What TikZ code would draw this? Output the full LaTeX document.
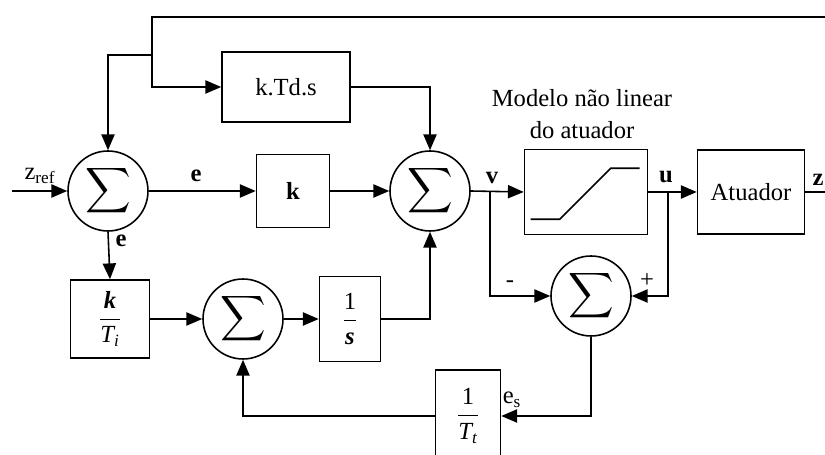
\documentclass[tikz,border=0pt]{standalone}
\usepackage{fontspec}
\usepackage{amsmath}
\usepackage{graphicx}
\setmainfont{Liberation Serif}
\usetikzlibrary{arrows.meta}
\tikzset{
  blk/.style={draw,line width=0.9pt,inner sep=0pt},
  sumnode/.style={draw,circle,line width=0.9pt,minimum size=1.6cm,inner sep=0pt},
  arr/.style={line width=0.9pt,-{Triangle[length=9pt,width=7.5pt]}},
  wire/.style={line width=0.9pt},
}
\newcommand{\sumsign}{\scalebox{1.25}{$\displaystyle\sum$}}
\begin{document}
\begin{tikzpicture}[x=0.02cm,y=-0.02cm,every node/.style={font=\fontsize{14}{16}\selectfont}]
\useasboundingbox (0,0) rectangle (825,455);
% summing junctions
\node[sumnode] (sum1) at (108,191) {\sumsign};
\node[sumnode] (sum2) at (430,191) {\sumsign};
\node[sumnode] (sum3) at (591,296) {\sumsign};
\node[sumnode] (sum4) at (243,319) {\sumsign};
% blocks
\node[blk,minimum width=2.56cm,minimum height=1.4cm] (kTd) at (286,87) {k.Td.s};
\node[blk,minimum width=1.46cm,minimum height=1.46cm] (k) at (293,191) {\textbf{k}};
\node[blk,minimum width=1.58cm,minimum height=1.56cm] (kTi) at (110,319) {$\displaystyle\frac{\textbf{\textit{k}}}{\textit{T}_{\textit{i}}}$};
\node[blk,minimum width=1.22cm,minimum height=1.7cm] (invs) at (350,319) {$\displaystyle\frac{\text{1}}{\textbf{\textit{s}}}$};
\node[blk,minimum width=1.3cm,minimum height=1.84cm] (invTt) at (468,416) {$\displaystyle\frac{\text{1}}{\textit{T}_{\textit{t}}}$};
\node[blk,minimum width=2.46cm,minimum height=1.7cm] (sat) at (586,192) {};
\node[blk,minimum width=2.14cm,minimum height=1.68cm] (act) at (751,192) {Atuador};
\node[align=center,font=\fontsize{14}{18}\selectfont] (satlbl) at (582,114) {Modelo não linear\\do atuador};
\draw[wire] ([shift={(7,-16)}]sat.south west) -- ++(29,0) -- ++(51,-51) -- ++(29,0);
% signals
\coordinate (zin) at (12,191);
\coordinate (topR) at (825,17);
\coordinate (topL) at (152,17);
\coordinate (br1) at (152,55);
\coordinate (vb) at (490,191);
\coordinate (ub) at (668,192);
\coordinate (zout) at (825,192);
\draw[arr] (zin) -- (sum1.west);
\draw[arr] (topR) -- (topL) |- (kTd.west);
\draw[arr] (br1) -| (sum1.north);
\draw[arr] (sum1.east) -- (k.west);
\draw[arr] (k.east) -- (sum2.west);
\draw[arr] (kTd.east) -| (sum2.north);
\draw[arr] (sum1.south) -- (kTi.north);
\draw[arr] (kTi.east) -- (sum4.west);
\draw[arr] (sum4.east) -- (invs.west);
\draw[arr] (invs.east) -| (sum2.south);
\draw[arr] (sum2.east) -- (sat.west);
\draw[arr] (vb) |- (sum3.west);
\draw[arr] (sat.east) -- (act.west);
\draw[arr] (ub) |- (sum3.east);
\draw[arr] (sum3.south) |- (invTt.east);
\draw[arr] (invTt.west) -| (sum4.south);
\draw[wire] (act.east) -- (zout);
% labels
\node (lzref) at (40,176) {z$_{\text{ref}}$};
\node (le1) at (196,176) {\textbf{e}};
\node (le2) at (121,241) {\textbf{e}};
\node (lv) at (492,178) {\textbf{v}};
\node (lu) at (666,177) {\textbf{u}};
\node (lz) at (818,180) {\textbf{z}};
\node (lminus) at (510,284) {-};
\node (lplus) at (647,281) {+};
\node (les) at (512,400) {e$_{\text{s}}$};
\end{tikzpicture}
\end{document}
